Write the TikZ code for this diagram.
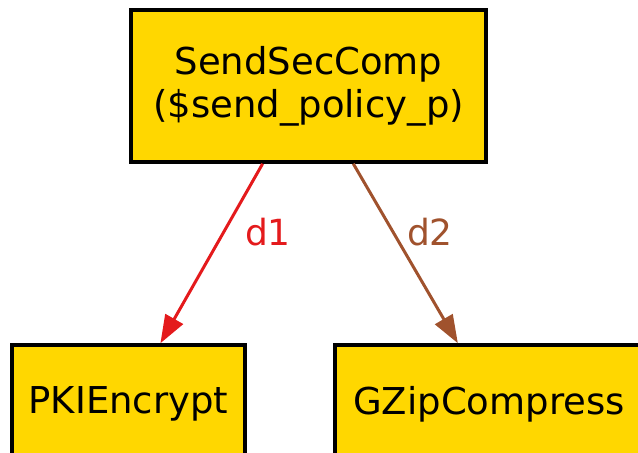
\documentclass[tikz,border=0pt]{standalone}
\usepackage{fontspec}
\setmainfont{DejaVu Sans}
\usetikzlibrary{arrows.meta,calc}
\definecolor{boxfill}{HTML}{FFD700}
\definecolor{edgeA}{HTML}{E41A1C}
\definecolor{edgeB}{HTML}{A0522D}
\tikzset{
  comp/.style={draw=black, line width=3.5pt, fill=boxfill, inner sep=0pt,
    align=center, font=\fontsize{37}{43}\selectfont},
  link/.style={line width=3pt, -{Triangle[length=28pt,width=20pt]}},
  lbl/.style={font=\fontsize{36}{40}\selectfont, inner sep=0pt}
}
\begin{document}
\begin{tikzpicture}[x=1pt,y=-1pt]
  \useasboundingbox (0,0) rectangle (638,453);
  \clip (0,0) rectangle (638,453);
  \node[comp, minimum width=355pt, minimum height=152pt] (top) at (308.5,86)
    {SendSecComp\\(\$send\_policy\_p)};
  \node[comp, minimum width=233pt, minimum height=118pt] (enc) at (128.5,404)
    {PKIEncrypt};
  \node[comp, minimum width=308pt, minimum height=118pt] (zip) at (489,404)
    {GZipCompress};
  \coordinate (a1) at ($(top.south west)!0.372!(top.south east)$);
  \coordinate (a2) at ($(enc.north west)!0.635!(enc.north east)$);
  \coordinate (b1) at ($(top.south west)!0.625!(top.south east)$);
  \coordinate (b2) at ($(zip.north west)!0.40!(zip.north east)$);
  \draw[link, draw=edgeA, fill=edgeA] (a1) -- (a2);
  \draw[link, draw=edgeB, fill=edgeB] (b1) -- (b2);
  \node[lbl, text=edgeA, anchor=base] (l1) at (268,245) {d1};
  \node[lbl, text=edgeB, anchor=base] (l2) at (430,245) {d2};
\end{tikzpicture}
\end{document}
